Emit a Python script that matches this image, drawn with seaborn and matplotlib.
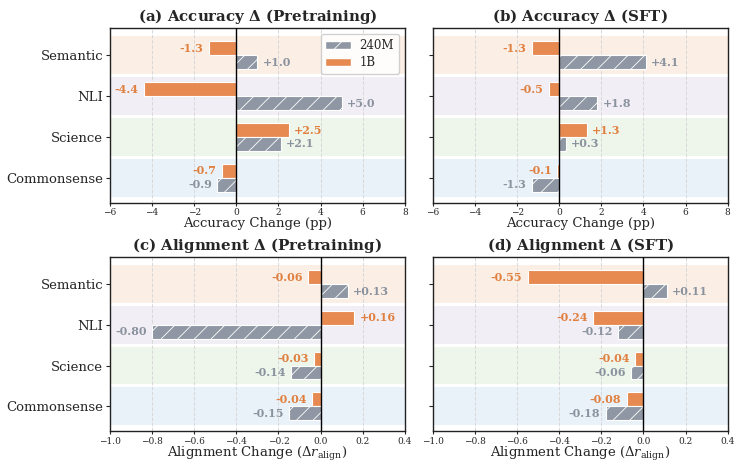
import pandas as pd
import seaborn as sns
import matplotlib.pyplot as plt
from matplotlib.patches import Patch

# categories, top to bottom
categories = ['Semantic', 'NLI', 'Science', 'Commonsense']
models = ['1B', '240M']

acc_pre_240m = [1.0, 5.0, 2.1, -0.9]
acc_pre_1b = [-1.3, -4.4, 2.5, -0.7]
acc_sft_240m = [4.1, 1.8, 0.3, -1.3]
acc_sft_1b = [-1.3, -0.5, 1.3, -0.1]
ali_pre_240m = [0.13, -0.80, -0.14, -0.15]
ali_pre_1b = [-0.06, 0.16, -0.03, -0.04]
ali_sft_240m = [0.11, -0.12, -0.06, -0.18]
ali_sft_1b = [-0.55, -0.24, -0.04, -0.08]

band_colors = ['#fbefe5', '#f1eef6', '#eef5ea', '#e9f1f9']
c_1b = '#e68a52'
c_240m = '#8e97a3'
t_1b = '#e07f3e'
t_240m = '#8a929e'

sns.set_style('ticks')
plt.rcParams['font.family'] = ['DejaVu Serif']
plt.rcParams['mathtext.fontset'] = 'dejavuserif'
plt.rcParams['hatch.color'] = 'white'
plt.rcParams['hatch.linewidth'] = 0.6


def make_df(v240, v1b):
    rows = []
    for c, a, b in zip(categories, v240, v1b):
        rows.append({'cat': c, 'model': '1B', 'val': b})
        rows.append({'cat': c, 'model': '240M', 'val': a})
    return pd.DataFrame(rows)


def draw(ax, v240, v1b, xlim, ticks, title, xlabel, fmt, off, show_y):
    df = make_df(v240, v1b)
    for i, bc in enumerate(band_colors):
        ax.axhspan(i - 0.465, i + 0.465, color=bc, zorder=0, lw=0)
    sns.barplot(data=df, y='cat', x='val', hue='model', order=categories,
                hue_order=models, palette=[c_1b, c_240m], orient='h',
                width=0.68, edgecolor='white', linewidth=0.8, ax=ax,
                legend=False, saturation=1, zorder=3)
    # hatch on 240M bars (second container)
    for p in ax.containers[1]:
        p.set_hatch('//')
    for cont, vals, tc in [(ax.containers[0], v1b, t_1b), (ax.containers[1], v240, t_240m)]:
        for p, v in zip(cont, vals):
            y = p.get_y() + p.get_height() / 2
            s = fmt.format(v)
            if v > 0:
                s = '+' + s
                ax.text(v + off, y, s, ha='left', va='center', color=tc,
                        fontsize=8, fontweight='bold', zorder=5)
            else:
                ax.text(v - off, y, s, ha='right', va='center', color=tc,
                        fontsize=8, fontweight='bold', zorder=5)
    ax.axvline(0, color='black', lw=1.0, zorder=4)
    ax.set_xlim(*xlim)
    ax.set_xticks(ticks)
    ax.set_ylim(3.61, -0.66)
    ax.xaxis.grid(True, ls='--', color='#d8d8d8', lw=0.7, zorder=1)
    ax.set_axisbelow(True)
    ax.set_title(title, fontsize=10.8, fontweight='bold', pad=5)
    ax.set_xlabel(xlabel, fontsize=9.5, labelpad=-0.5)
    ax.set_ylabel('')
    ax.tick_params(axis='x', labelsize=6.5, length=2, pad=2)
    ax.tick_params(axis='y', labelsize=9.5, length=3, pad=2)
    if not show_y:
        ax.set_yticklabels([])
    for sp in ax.spines.values():
        sp.set_visible(True)
        sp.set_color('#222222')
        sp.set_linewidth(1.0)


fig = plt.figure(figsize=(7.35, 4.62), dpi=100)
ax_a = fig.add_axes([0.1497, 0.561, 0.401, 0.378])
ax_b = fig.add_axes([0.589, 0.561, 0.401, 0.378])
ax_c = fig.add_axes([0.1497, 0.067, 0.401, 0.376])
ax_d = fig.add_axes([0.589, 0.067, 0.401, 0.376])

acc_ticks = [-6, -4, -2, 0, 2, 4, 6, 8]
ali_ticks = [-1.0, -0.8, -0.6, -0.4, -0.2, 0.0, 0.2, 0.4]
ali_label = r'Alignment Change ($\Delta r_{\mathrm{align}}$)'

draw(ax_a, acc_pre_240m, acc_pre_1b, (-6, 8), acc_ticks,
     r'(a) Accuracy $\mathbf{\Delta}$ (Pretraining)', 'Accuracy Change (pp)', '{:.1f}', 0.25, True)
draw(ax_b, acc_sft_240m, acc_sft_1b, (-6, 8), acc_ticks,
     r'(b) Accuracy $\mathbf{\Delta}$ (SFT)', 'Accuracy Change (pp)', '{:.1f}', 0.25, False)
draw(ax_c, ali_pre_240m, ali_pre_1b, (-1.0, 0.4), ali_ticks,
     r'(c) Alignment $\mathbf{\Delta}$ (Pretraining)', ali_label, '{:.2f}', 0.025, True)
draw(ax_d, ali_sft_240m, ali_sft_1b, (-1.0, 0.4), ali_ticks,
     r'(d) Alignment $\mathbf{\Delta}$ (SFT)', ali_label, '{:.2f}', 0.025, False)

handles = [Patch(facecolor=c_240m, edgecolor='white', hatch='//', label='240M'),
           Patch(facecolor=c_1b, edgecolor='white', label='1B')]
ax_a.legend(handles=handles, loc='upper right', fontsize=8.5, frameon=True,
            framealpha=0.9, edgecolor='#cccccc', borderpad=0.4,
            handlelength=2.2, handletextpad=0.7, labelspacing=0.35,
            borderaxespad=0.5)

fig.savefig('out.png', dpi=100)
